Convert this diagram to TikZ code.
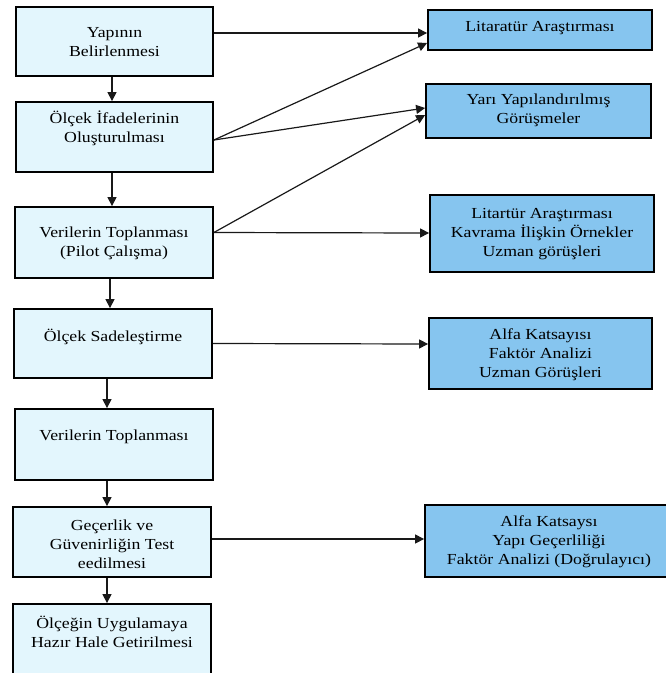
\documentclass[tikz,border=0pt]{standalone}
\usepackage{fontspec}
\setmainfont{Liberation Serif}[FakeStretch=1.16]
\usetikzlibrary{arrows.meta}
\definecolor{lightbox}{HTML}{E3F6FD}
\definecolor{bluebox}{HTML}{86C5EF}
\tikzset{
  lbox/.style={draw=black, line width=1.8pt, fill=lightbox, rectangle, inner sep=0pt},
  rbox/.style={draw=black, line width=1.8pt, fill=bluebox, rectangle, inner sep=0pt},
  txt/.style={align=center, inner sep=0pt, font=\fontsize{15.3}{19}\selectfont, text=black},
  arr/.style={draw=black!90, line width=1.2pt, -{Triangle[length=9pt,width=9pt]}},
}
\begin{document}
\begin{tikzpicture}[x=1pt,y=-1pt]
\useasboundingbox (0,0) rectangle (666,673);
\fill[white] (0,0) rectangle (666,673);
\clip (0,0) rectangle (666,673);
% left boxes
\node[lbox, minimum width=197pt, minimum height=69pt] (b1) at (114.5,41.5) {};
\node[lbox, minimum width=197pt, minimum height=70pt] (b2) at (114.5,137) {};
\node[lbox, minimum width=198pt, minimum height=71pt] (b3) at (114,242.5) {};
\node[lbox, minimum width=198pt, minimum height=69pt] (b4) at (113,343.5) {};
\node[lbox, minimum width=198pt, minimum height=71pt] (b5) at (114,444.5) {};
\node[lbox, minimum width=198pt, minimum height=70pt] (b6) at (112,542) {};
\node[lbox, minimum width=198pt, minimum height=90pt] (b7) at (112,649) {};
% right boxes
\node[rbox, minimum width=224pt, minimum height=40pt] (r1) at (540,30) {};
\node[rbox, minimum width=225pt, minimum height=54pt] (r2) at (538.5,111) {};
\node[rbox, minimum width=224pt, minimum height=77pt] (r3) at (542,233.5) {};
\node[rbox, minimum width=223pt, minimum height=71pt] (r4) at (540.5,353.5) {};
\node[rbox, minimum width=245pt, minimum height=72pt] (r5) at (547.5,541) {};
% texts
\node[txt] (t1) at (114.5,42.5) {Yapının\\Belirlenmesi};
\node[txt] (t2) at (114.5,128) {Ölçek İfadelerinin\\Oluşturulması};
\node[txt] (t3) at (114,243) {Verilerin Toplanması\\(Pilot Çalışma)};
\node[txt] (t4) at (113,337) {Ölçek Sadeleştirme};
\node[txt] (t5) at (114,437) {Verilerin Toplanması};
\node[txt] (t6) at (112,544) {Geçerlik ve\\Güvenirliğin Test\\eedilmesi};
\node[txt] (t7) at (112,632) {Ölçeğin Uygulamaya\\Hazır Hale Getirilmesi};
\node[txt] (u1) at (540,28.5) {Litaratür Araştırması};
\node[txt] (u2) at (538.5,110.5) {Yarı Yapılandırılmış\\Görüşmeler};
\node[txt] (u3) at (542,234) {Litartür Araştırması\\Kavrama İlişkin Örnekler\\Uzman görüşleri};
\node[txt] (u4) at (540.5,355) {Alfa Katsayısı\\Faktör Analizi\\Uzman Görüşleri};
\node[txt] (u5) at (549,541.5) {Alfa Katsaysı\\Yapı Geçerliliği\\Faktör Analizi (Doğrulayıcı)};
% vertical arrows
\draw[arr] ([xshift=-2.5pt]b1.south) -- ([xshift=-2.5pt]b2.north);
\draw[arr] ([xshift=-2.5pt]b2.south) -- ([xshift=-2pt]b3.north);
\draw[arr] ([xshift=-4pt]b3.south) -- ([xshift=-3pt]b4.north);
\draw[arr] ([xshift=-6pt]b4.south) -- ([xshift=-7pt]b5.north);
\draw[arr] ([xshift=-7pt]b5.south) -- ([xshift=-5pt]b6.north);
\draw[arr] ([xshift=-5pt]b6.south) -- ([xshift=-5pt]b7.north);
% side arrows
\draw[arr] ([yshift=8.5pt]b1.east) -- ([yshift=-3pt]r1.west);
\draw[arr] ([yshift=-3pt]b2.east) -- ([yshift=-13pt]r1.west);
\draw[arr] ([yshift=-3pt]b2.east) -- ([yshift=3pt]r2.west);
\draw[arr] ([yshift=10pt]b3.east) -- ([yshift=-4pt]r2.west);
\draw[arr] ([yshift=10pt]b3.east) -- ([yshift=0.5pt]r3.west);
\draw[arr] (b4.east) -- ([yshift=9.5pt]r4.west);
\draw[arr] ([yshift=3pt]b6.east) -- ([yshift=2pt]r5.west);
\end{tikzpicture}
\end{document}
